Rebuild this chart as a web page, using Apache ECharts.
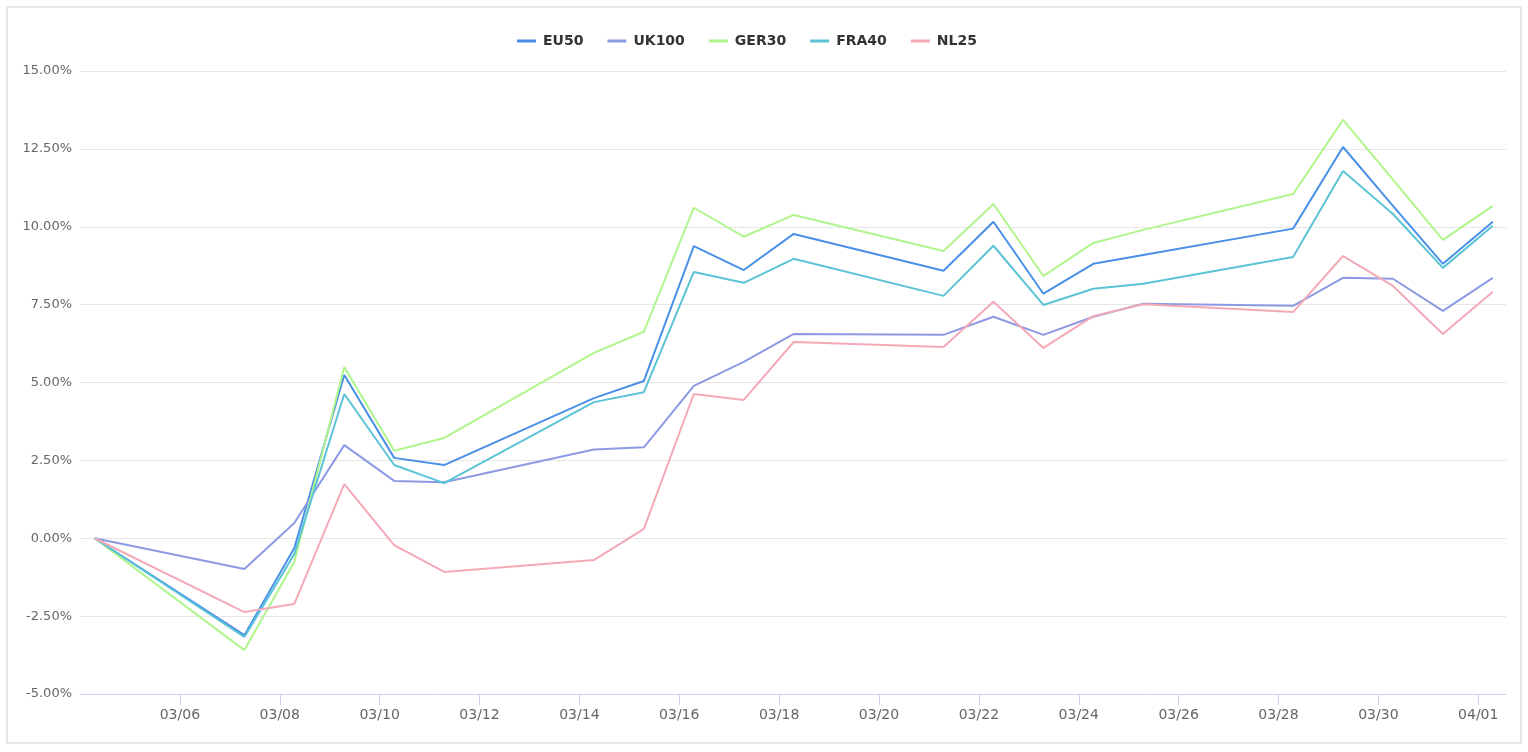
<!DOCTYPE html>
<html>
<head>
<meta charset="utf-8">
<script src="https://cdn.jsdelivr.net/npm/echarts@6/dist/echarts.min.js"></script>
<style>
html,body{margin:0;padding:0;background:#fff;}
#chart{width:1528px;height:752px;}
</style>
</head>
<body>
<div id="chart"></div>
<script>
const dates = ['2022-03-04','2022-03-07','2022-03-08','2022-03-09','2022-03-10','2022-03-11',
  '2022-03-14','2022-03-15','2022-03-16','2022-03-17','2022-03-18','2022-03-21','2022-03-22',
  '2022-03-23','2022-03-24','2022-03-25','2022-03-28','2022-03-29','2022-03-30','2022-03-31','2022-04-01'];
const seriesNames = ['EU50','UK100','GER30','FRA40','NL25'];
const EU50  = [0,-3.11,-0.31,5.24,2.58,2.35,4.50,5.05,9.38,8.61,9.77,8.59,10.16,7.85,8.81,9.09,9.94,12.56,10.67,8.81,10.16];
const UK100 = [0,-0.99,0.49,2.99,1.84,1.80,2.85,2.92,4.89,5.66,6.56,6.53,7.11,6.53,7.11,7.53,7.46,8.36,8.33,7.30,8.36];
const GER30 = [0,-3.59,-0.76,5.50,2.81,3.22,5.95,6.63,10.61,9.68,10.38,9.22,10.73,8.42,9.48,9.90,11.05,13.43,11.51,9.58,10.67];
const FRA40 = [0,-3.17,-0.51,4.63,2.35,1.77,4.37,4.69,8.55,8.20,8.97,7.78,9.39,7.49,8.01,8.17,9.03,11.79,10.41,8.68,10.03];
const NL25  = [0,-2.37,-2.11,1.74,-0.22,-1.08,-0.70,0.30,4.63,4.44,6.30,6.14,7.59,6.11,7.13,7.51,7.26,9.06,8.10,6.56,7.91];
const tickDates = ['2022-03-06','2022-03-08','2022-03-10','2022-03-12','2022-03-14','2022-03-16',
  '2022-03-18','2022-03-20','2022-03-22','2022-03-24','2022-03-26','2022-03-28','2022-03-30','2022-04-01'];
const yTicks = [-5, -2.5, 0, 2.5, 5, 7.5, 10, 12.5, 15];
const colors = ['#4a90e6','#8d9ae3','#b0f58c','#5cc3d6','#f4a9b7'];

function ts(d, h, m){ const p = d.split('-').map(Number); return new Date(p[0], p[1]-1, p[2], h||0, m||0).getTime(); }
const allData = [EU50, UK100, GER30, FRA40, NL25];
const tickTs = tickDates.map(d => ts(d));
const pad2 = n => (n < 10 ? '0' : '') + n;

const chart = echarts.init(document.getElementById('chart'), null, {renderer:'canvas'});
chart.setOption({
  animation: false,
  color: colors,
  graphic: [{
    type: 'rect', silent: true, z: 100,
    shape: {x: 7, y: 7, width: 1514, height: 736},
    style: {fill: 'none', stroke: '#e3e8eb', lineWidth: 2}
  }],
  legend: {
    top: 29, left: 512,
    icon: 'rect', itemWidth: 19, itemHeight: 3, itemGap: 24,
    textStyle: {fontFamily: 'DejaVu Sans', fontWeight: 'bold', fontSize: 14, color: '#333', padding: [0,0,0,2]},
    data: seriesNames
  },
  grid: {left: 80, right: 22, top: 71, bottom: 58, containLabel: false},
  xAxis: {
    type: 'value',
    min: ts('2022-03-04', 0, 0),
    max: ts('2022-04-01', 13, 20),
    axisLine: {onZero: false, lineStyle: {color: '#ccd6eb', width: 1}},
    axisTick: {show: true, length: 11, lineStyle: {color: '#ccd6eb'}, customValues: tickTs},
    axisLabel: {
      customValues: tickTs,
      color: '#666', fontFamily: 'DejaVu Sans', fontSize: 14, margin: 14,
      formatter: v => { const d = new Date(v); return pad2(d.getMonth()+1) + '/' + pad2(d.getDate()); }
    },
    splitLine: {show: false}
  },
  yAxis: {
    type: 'value', min: yTicks[0], max: yTicks[yTicks.length-1], interval: 2.5,
    axisLine: {show: false}, axisTick: {show: false},
    axisLabel: {color: '#666', fontFamily: 'DejaVu Sans', fontSize: 13, margin: 8,
      formatter: v => v.toFixed(2) + '%'},
    splitLine: {lineStyle: {color: '#e6e6e6', width: 1}}
  },
  series: seriesNames.map((name, i) => ({
    name, type: 'line', showSymbol: false, symbol: 'none',
    lineStyle: {width: 2},
    emphasis: {disabled: true},
    data: dates.map((d, j) => [ts(d, 7, 0), allData[i][j]])
  }))
});
</script>
</body>
</html>
